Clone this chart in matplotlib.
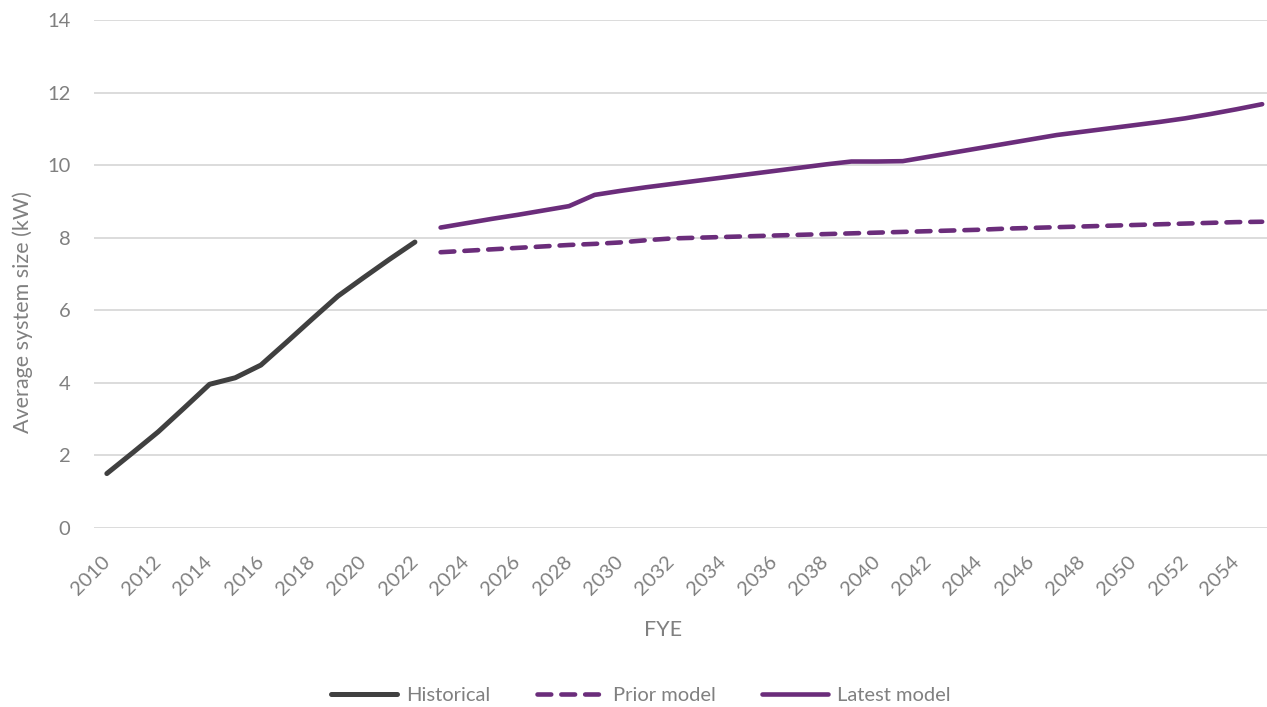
import matplotlib
matplotlib.use("Agg")
import matplotlib.pyplot as plt
import matplotlib.transforms as mtransforms

# ---- data ----
hist_years = list(range(2010, 2023))
hist_vals = [1.50, 2.07, 2.65, 3.30, 3.96, 4.14, 4.49, 5.12, 5.76, 6.39, 6.90, 7.40, 7.88]

model_years = list(range(2023, 2056))
prior_vals = [7.60, 7.64, 7.68, 7.72, 7.76, 7.80, 7.83, 7.87, 7.93, 7.98, 8.00, 8.02, 8.04,
              8.06, 8.08, 8.10, 8.12, 8.14, 8.16, 8.18, 8.20, 8.22, 8.25, 8.27, 8.29,
              8.31, 8.33, 8.35, 8.37, 8.39, 8.41, 8.43, 8.44]
latest_vals = [8.28, 8.40, 8.52, 8.63, 8.75, 8.87, 9.18, 9.29, 9.39, 9.48, 9.57, 9.66, 9.75,
               9.84, 9.93, 10.02, 10.10, 10.10, 10.11, 10.23, 10.35, 10.47, 10.59, 10.71,
               10.83, 10.92, 11.01, 11.10, 11.19, 11.29, 11.41, 11.54, 11.68]

xtick_labels = list(range(2010, 2055, 2))
yticks = [0, 2, 4, 6, 8, 10, 12, 14]

# ---- style ----
TEXT = "#808080"
GRID = "#d9d9d9"
HIST_C = "#404040"
PURPLE = "#6b2d7b"
FONT = "Lato"
plt.rcParams['font.family'] = [FONT, 'DejaVu Sans']

fig = plt.figure(figsize=(12.67, 7.07), dpi=100)
ax = fig.add_axes([94/1267, 1 - 528/707, (1275 - 94)/1267, (528 - 20)/707])

ax.plot(hist_years, hist_vals, color=HIST_C, lw=3.6, solid_capstyle='round',
        solid_joinstyle='round', label="Historical")
ax.plot(model_years, prior_vals, color=PURPLE, lw=3.3, dashes=(3.0, 2.2),
        dash_capstyle='round', dash_joinstyle='round', label="Prior model")
ax.plot(model_years, latest_vals, color=PURPLE, lw=3.3, solid_capstyle='round',
        solid_joinstyle='round', label="Latest model")

ax.set_xlim(2009.5, 2055.5)
ax.set_ylim(0, 14)
ax.set_yticks(yticks)
ax.set_xticks(xtick_labels)
ax.set_xticklabels([str(v) for v in xtick_labels], rotation=45, ha='right', va='top',
                   rotation_mode='anchor', fontsize=14.5, color=TEXT)
ax.tick_params(axis='x', length=0, pad=18)
ax.tick_params(axis='y', length=0, pad=17, labelsize=14.5, labelcolor=TEXT)
offset = mtransforms.ScaledTranslation(-6/100, 0, fig.dpi_scale_trans)
for lbl in ax.get_xticklabels():
    lbl.set_transform(lbl.get_transform() + offset)

ax.grid(axis='y', color=GRID, lw=1.3)
ax.set_axisbelow(True)
for s in ax.spines.values():
    s.set_visible(False)

fig.text(23/1267, 1 - 312/707, "Average system size (kW)", rotation=90, ha='center',
         va='center', fontsize=15.5, color=TEXT)
fig.text(663/1267, 1 - 630/707, "FYE", ha='center', va='center', fontsize=15.5, color=TEXT)

leg = fig.legend(loc='center', bbox_to_anchor=(641/1267, 1 - 695/707), ncol=3,
                 frameon=False, fontsize=14.5, handlelength=3.3, handletextpad=0.45,
                 columnspacing=2.3, labelcolor=TEXT)

fig.savefig("out.png", dpi=100)
